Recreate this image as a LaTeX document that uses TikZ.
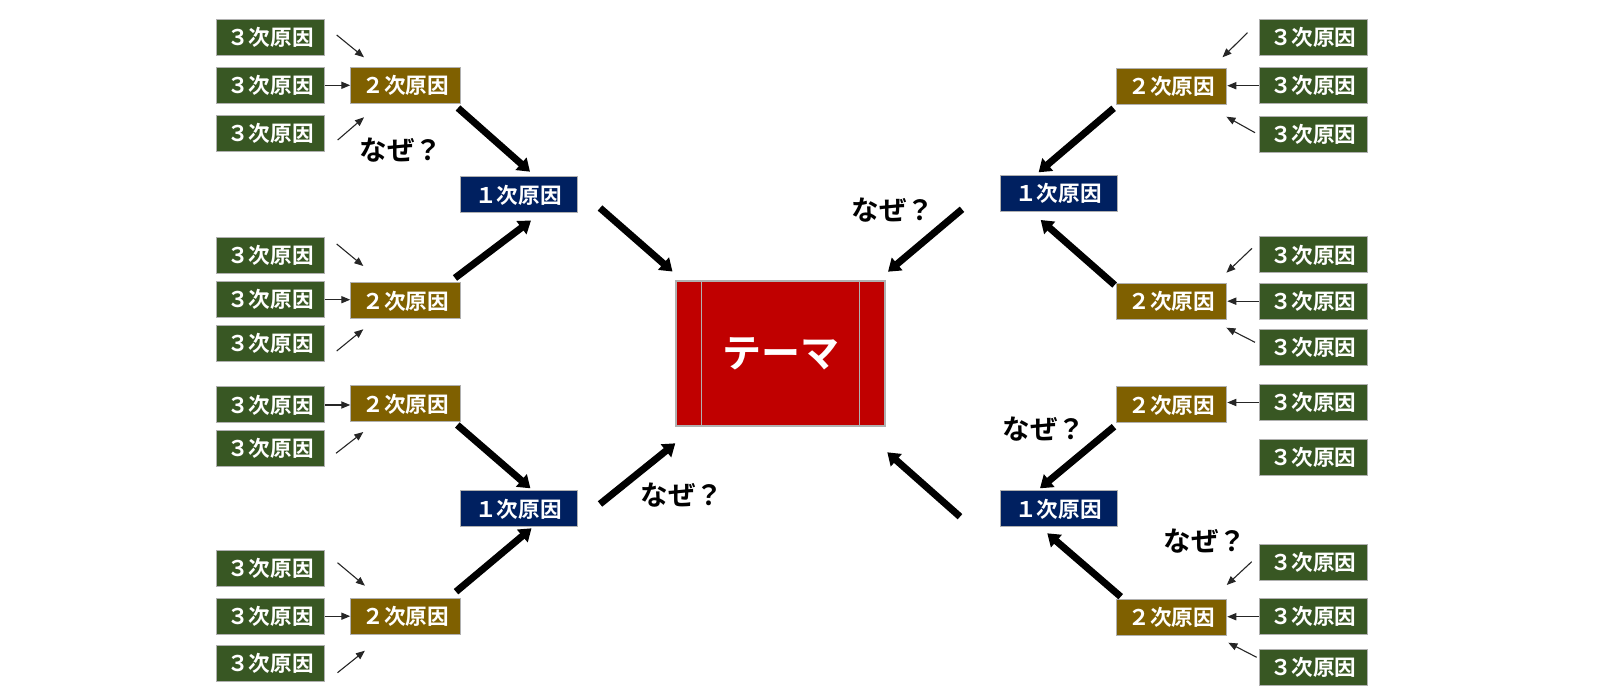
\documentclass[tikz,border=0pt]{standalone}
\usepackage{fontspec}
\setmainfont{Noto Sans CJK JP}[BoldFont={Noto Sans CJK JP Bold}]
\usetikzlibrary{arrows.meta}
\definecolor{gthree}{HTML}{385723}
\definecolor{btwo}{HTML}{7F6000}
\definecolor{navyone}{HTML}{002060}
\definecolor{thred}{HTML}{C00000}
\definecolor{bord}{HTML}{B0B0B0}
\begin{document}
\begin{tikzpicture}[x=0.5pt,y=-0.5pt,
  boxbase/.style={rectangle, draw=bord, line width=0.5pt, inner sep=0pt, minimum height=18pt,
    text=white, font=\bfseries\fontsize{10.8}{12}\selectfont},
  cthree/.style={boxbase, fill=gthree, minimum width=54pt},
  ctwo/.style={boxbase, fill=btwo, minimum width=55pt},
  cone/.style={boxbase, fill=navyone, minimum width=58.5pt},
  themebox/.style={rectangle, draw=bord, line width=0.6pt, fill=thred, inner sep=0pt,
    minimum width=104.5pt, minimum height=72.5pt, text=white, font=\bfseries\fontsize{19.5}{22}\selectfont},
  bigarrow/.style={line width=3.5pt, -{Triangle[width=8pt,length=6pt]}},
  thinarrow/.style={line width=0.55pt, black!85, -{Triangle[width=3.6pt,length=4.5pt]}},
  why/.style={font=\bfseries\fontsize{13.8}{16}\selectfont, text=black, inner sep=0pt}
]
\useasboundingbox (0,0) rectangle (1600,694);

% theme
\node[themebox] (theme) at (780.5,353.5) {テーマ};
\draw[bord, line width=0.6pt] ([xshift=13pt]theme.north west) -- ([xshift=13pt]theme.south west);
\draw[bord, line width=0.6pt] ([xshift=-13pt]theme.north east) -- ([xshift=-13pt]theme.south east);

% ---------- left side ----------
\node[cone] (lo1) at (518.5,195) {１次原因};
\node[cone] (lo2) at (518.5,509) {１次原因};

\node[ctwo] (lt1) at (405.75,85.3) {２次原因};
\node[ctwo] (lt2) at (405.75,301) {２次原因};
\node[ctwo] (lt3) at (405.75,404) {２次原因};
\node[ctwo] (lt4) at (405.75,616.3) {２次原因};

\node[cthree] (la1) at (270.5,37.3) {３次原因};
\node[cthree] (la2) at (270.5,85.3) {３次原因};
\node[cthree] (la3) at (270.5,133.3) {３次原因};
\node[cthree] (lb1) at (270.5,255.3) {３次原因};
\node[cthree] (lb2) at (270.5,299.7) {３次原因};
\node[cthree] (lb3) at (270.5,343.7) {３次原因};
\node[cthree] (lc1) at (270.5,405) {３次原因};
\node[cthree] (lc2) at (270.5,448.8) {３次原因};
\node[cthree] (ld1) at (270.5,568.7) {３次原因};
\node[cthree] (ld2) at (270.5,616.2) {３次原因};
\node[cthree] (ld3) at (270.5,663.7) {３次原因};

% ---------- right side ----------
\node[cone] (ro1) at (1058.5,193.7) {１次原因};
\node[cone] (ro2) at (1058.5,509) {１次原因};

\node[ctwo] (rt1) at (1171.75,86.3) {２次原因};
\node[ctwo] (rt2) at (1171.75,301.2) {２次原因};
\node[ctwo] (rt3) at (1171.75,405) {２次原因};
\node[ctwo] (rt4) at (1171.75,617.2) {２次原因};

\node[cthree] (ra1) at (1313.3,37.3) {３次原因};
\node[cthree] (ra2) at (1313.3,85.7) {３次原因};
\node[cthree] (ra3) at (1313.3,134.3) {３次原因};
\node[cthree] (rb1) at (1313.3,255) {３次原因};
\node[cthree] (rb2) at (1313.3,301.2) {３次原因};
\node[cthree] (rb3) at (1313.3,347.2) {３次原因};
\node[cthree] (rc1) at (1313.3,402.5) {３次原因};
\node[cthree] (rc2) at (1313.3,457.7) {３次原因};
\node[cthree] (rd1) at (1313.3,562.7) {３次原因};
\node[cthree] (rd2) at (1313.3,616.7) {３次原因};
\node[cthree] (rd3) at (1313.3,667.2) {３次原因};

% labels
\node[why] (w1) at (401,150.5) {なぜ？};
\node[why] (w2) at (682,495) {なぜ？};
\node[why] (w3) at (893,210) {なぜ？};
\node[why] (w4) at (1044,429) {なぜ？};
\node[why] (w5) at (1205,541) {なぜ？};

% ---------- thick arrow coordinates ----------
\coordinate (A1s) at (458,108);    \coordinate (A1e) at (530,171.7);
\coordinate (A2s) at (455,278);    \coordinate (A2e) at (531,220.5);
\coordinate (A3s) at (457.3,425);  \coordinate (A3e) at (530.4,488.3);
\coordinate (A4s) at (456,591.7);  \coordinate (A4e) at (531.5,528.3);
\coordinate (A5s) at (600,208);    \coordinate (A5e) at (672.5,271.5);
\coordinate (A6s) at (600,504);    \coordinate (A6e) at (675.3,443.3);
\coordinate (B1s) at (1113.6,108.3); \coordinate (B1e) at (1038.6,172.3);
\coordinate (B2s) at (1114.6,285);   \coordinate (B2e) at (1040.7,220);
\coordinate (B3s) at (1114,426.7);   \coordinate (B3e) at (1040,488.3);
\coordinate (B4s) at (1120.7,596.7); \coordinate (B4e) at (1047.3,533.3);
\coordinate (B5s) at (962,209.3);    \coordinate (B5e) at (888,271.7);
\coordinate (B6s) at (960,516.7);    \coordinate (B6e) at (887.3,452.3);

\foreach \n in {A1,A2,A3,A4,A5,A6,B1,B2,B3,B4,B5,B6}
  \draw[bigarrow] (\n s) -- (\n e);

% ---------- thin arrows ----------
% left horizontal
\draw[thinarrow] (la2.east) -- (la2.east -| lt1.west);
\draw[thinarrow] (lb2.east) -- (lb2.east -| lt2.west);
\draw[thinarrow] (lc1.east) -- (lc1.east -| lt3.west);
\draw[thinarrow] (ld2.east) -- (ld2.east -| lt4.west);
% right horizontal
\draw[thinarrow] (ra2.west) -- (ra2.west -| rt1.east);
\draw[thinarrow] (rb2.west) -- (rb2.west -| rt2.east);
\draw[thinarrow] (rc1.west) -- (rc1.west -| rt3.east);
\draw[thinarrow] (rd2.west) -- (rd2.west -| rt4.east);

% left diagonals
\coordinate (t1s) at (336.7,35);   \coordinate (t1e) at (364,57.3);
\coordinate (t2s) at (337.7,140);  \coordinate (t2e) at (364,117.3);
\coordinate (t3s) at (336.7,244);  \coordinate (t3e) at (363.3,266);
\coordinate (t4s) at (336.7,351);  \coordinate (t4e) at (363.3,329.3);
\coordinate (t5s) at (336,453.3);  \coordinate (t5e) at (363.3,432);
\coordinate (t6s) at (337.5,562.7); \coordinate (t6e) at (364.9,585.7);
\coordinate (t7s) at (337.5,672.7); \coordinate (t7e) at (364.9,650.7);
% right diagonals
\coordinate (u1s) at (1247.5,32.7); \coordinate (u1e) at (1222.5,57.3);
\coordinate (u2s) at (1255,132.7);  \coordinate (u2e) at (1226.4,116.7);
\coordinate (u3s) at (1252,248.3);  \coordinate (u3e) at (1226.4,272.7);
\coordinate (u4s) at (1255,342.3);  \coordinate (u4e) at (1226.4,327.7);
\coordinate (u5s) at (1251.7,561.7); \coordinate (u5e) at (1226.7,585);
\coordinate (u6s) at (1256.7,657.3); \coordinate (u6e) at (1228.3,642.7);

\foreach \n in {t1,t2,t3,t4,t5,t6,t7,u1,u2,u3,u4,u5,u6}
  \draw[thinarrow] (\n s) -- (\n e);
\end{tikzpicture}
\end{document}
